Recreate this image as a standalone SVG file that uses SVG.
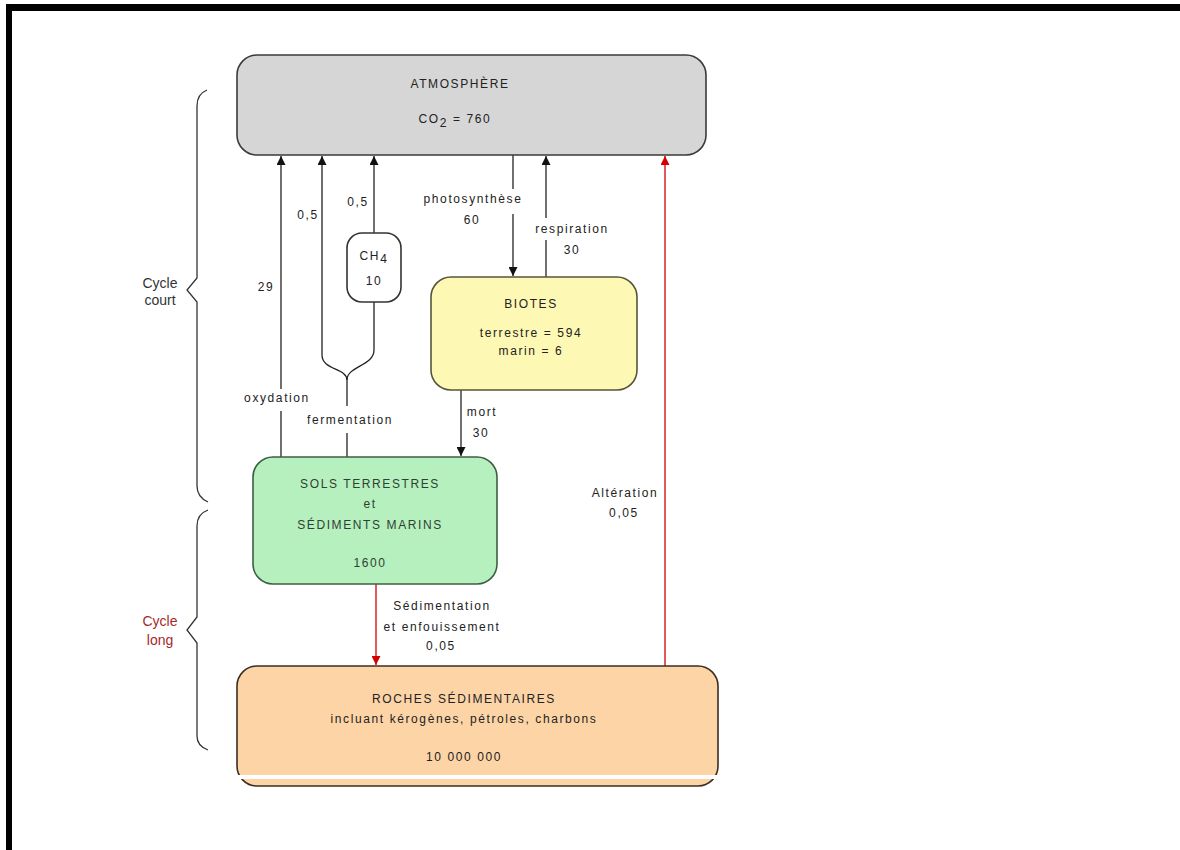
<svg xmlns="http://www.w3.org/2000/svg" width="1180" height="850" viewBox="0 0 1180 850">
<defs>
<marker id="ah" viewBox="0 0 10 10" refX="10" refY="5" markerWidth="12" markerHeight="9" markerUnits="userSpaceOnUse" orient="auto">
<path d="M0,0 L10,5 L0,10 Z" fill="#111"/>
</marker>
<marker id="ahr" viewBox="0 0 10 10" refX="10" refY="5" markerWidth="12" markerHeight="9" markerUnits="userSpaceOnUse" orient="auto">
<path d="M0,0 L10,5 L0,10 Z" fill="#d40000"/>
</marker>
</defs>
<style>
text{font-family:"Liberation Sans",Arial,sans-serif;font-size:12px;letter-spacing:1.6px;fill:#222;text-anchor:middle}
.side{font-size:14px;letter-spacing:0;fill:#333}
.red{fill:#a52a2a}
.ln{fill:none;stroke:#222;stroke-width:1.3}
.rl{fill:none;stroke:#d40000;stroke-width:1.3}
.box{stroke-width:1.6}
.br{fill:none;stroke:#333;stroke-width:1.3}
</style>
<rect x="0" y="0" width="1180" height="850" fill="#fff"/>
<rect x="6" y="4" width="1174" height="7" fill="#000"/>
<rect x="6" y="4" width="6" height="846" fill="#000"/>

<g id="braces">
<path class="br" d="M207,90 Q197,94 197,106 L197,278 L187,290 L197,302 L197,486 Q197,497 208,502"/>
<path class="br" d="M208,510 Q197,514 197,526 L197,617 L187,630 L197,643 L197,736 Q197,746 208,750"/>
<text class="side" x="160" y="288">Cycle</text>
<text class="side" x="160" y="305">court</text>
<text class="side red" x="160" y="626">Cycle</text>
<text class="side red" x="160" y="645">long</text>
</g>

<g id="connectors">
<!-- oxydation -->
<path class="ln" d="M281,457 L281,411"/>
<path class="ln" d="M281,389 L281,156" marker-end="url(#ah)"/>
<text x="277" y="402">oxydation</text>
<text x="266" y="291">29</text>
<!-- fermentation -->
<path class="ln" d="M347,457 L347,433"/>
<path class="ln" d="M347,406 L347,380"/>
<path class="ln" d="M347,380 C347,368 322,370 322,355 L322,156" marker-end="url(#ah)"/>
<path class="ln" d="M347,380 C347,366 374,366 374,350 L374,302"/>
<path class="ln" d="M374,233 L374,156" marker-end="url(#ah)"/>
<text x="350" y="424">fermentation</text>
<text x="308" y="219">0,5</text>
<text x="358" y="206">0,5</text>
<!-- photosynthese -->
<path class="ln" d="M513,155 L513,189"/>
<path class="ln" d="M513,214 L513,276" marker-end="url(#ah)"/>
<text x="473" y="203">photosynthèse</text>
<text x="472" y="224">60</text>
<!-- respiration -->
<path class="ln" d="M546,277 L546,240"/>
<path class="ln" d="M546,218 L546,156" marker-end="url(#ah)"/>
<text x="572" y="233">respiration</text>
<text x="572" y="254">30</text>
<!-- mort -->
<path class="ln" d="M461,390 L461,456" marker-end="url(#ah)"/>
<text x="482" y="416">mort</text>
<text x="481" y="437">30</text>
<!-- sedimentation -->
<path class="rl" d="M376,584 L376,665" marker-end="url(#ahr)"/>
<text x="442" y="610">Sédimentation</text>
<text x="442" y="631">et enfouissement</text>
<text x="441" y="650">0,05</text>
<!-- alteration -->
<path class="rl" d="M665,666 L665,156" marker-end="url(#ahr)"/>
<text x="625" y="497">Altération</text>
<text x="624" y="517">0,05</text>
</g>

<g id="atmosphere">
<rect class="box" x="237" y="55" width="469" height="100" rx="20" fill="#d6d6d6" stroke="#3a3a3a"/>
<text x="460" y="88">ATMOSPHÈRE</text>
<text x="455" y="123">CO<tspan font-size="12" dy="4">2</tspan><tspan dy="-4"> = 760</tspan></text>
</g>

<g id="ch4">
<rect class="box" x="347" y="233" width="54" height="69" rx="15" fill="#fff" stroke="#333"/>
<text x="374" y="260">CH<tspan dy="3">4</tspan></text>
<text x="374" y="285">10</text>
</g>

<g id="biotes">
<rect class="box" x="431" y="277" width="206" height="113" rx="20" fill="#fdf8b4" stroke="#55553a"/>
<text x="531" y="308">BIOTES</text>
<text x="531" y="337">terrestre = 594</text>
<text x="531" y="355">marin = 6</text>
</g>

<g id="sols">
<rect class="box" x="253" y="457" width="244" height="127" rx="20" fill="#b6f0bf" stroke="#3e5e44"/>
<text x="370" y="488" style="fill:#2f3f33">SOLS TERRESTRES</text>
<text x="370" y="508" style="fill:#2f3f33">et</text>
<text x="370" y="529" style="fill:#2f3f33">SÉDIMENTS MARINS</text>
<text x="370" y="567" style="fill:#2f3f33">1600</text>
</g>

<g id="roches">
<rect class="box" x="237" y="666" width="481" height="120" rx="20" fill="#fdd4a6" stroke="#3a2e22"/>
<rect x="230" y="775" width="495" height="4" fill="#fff"/>
<text x="464" y="703">ROCHES SÉDIMENTAIRES</text>
<text x="464" y="723">incluant kérogènes, pétroles, charbons</text>
<text x="464" y="761">10 000 000</text>
</g>
</svg>
